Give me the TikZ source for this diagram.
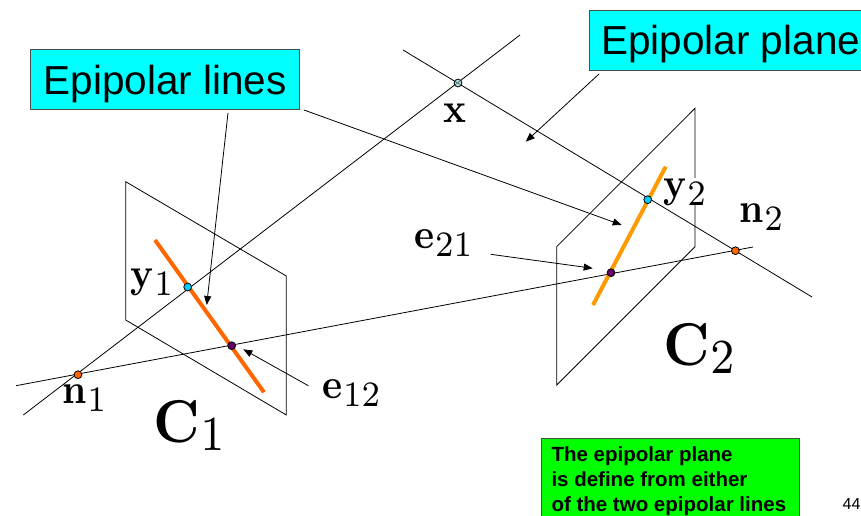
\documentclass[tikz,border=0pt]{standalone}
\usepackage[no-math]{fontspec}
\newfontfamily\arial{Liberation Sans}
\usetikzlibrary{arrows.meta}
\definecolor{boxcyan}{HTML}{00FFFF}
\definecolor{boxgreen}{HTML}{00FF00}
\definecolor{lineA}{HTML}{FF6600}
\definecolor{lineB}{HTML}{FF9900}
\definecolor{dotcyan}{HTML}{00CCFF}
\definecolor{dotpurple}{HTML}{660066}
\definecolor{dotx}{HTML}{88CCCC}
\font\baseA=cmbx10 at 38pt
\font\subA=cmr7 at 32.5pt
\font\baseB=cmbx10 at 56pt
\font\subB=cmr7 at 43pt
\newcommand{\tallA}[1]{\scalebox{1}[1.1]{#1}}
\newcommand{\tallB}[1]{\scalebox{1}[1.08]{#1}}
\newcommand{\smalllbl}[2]{\tallA{\baseA #1}\kern1pt\raisebox{-8pt}{\tallA{\subA #2}}}
\newcommand{\biglbl}[2]{\tallB{\baseB #1}\kern1pt\raisebox{-8pt}{\scalebox{1}[1.14]{\subB #2}}}
\tikzset{
  thin line/.style={draw=black,line width=0.8pt},
  arr/.style={thin line,-{Triangle[length=9pt,width=7pt]}},
  cyanbox/.style={draw=black!70,line width=1pt,fill=boxcyan,inner sep=0pt,text=black},
  greenbox/.style={draw=black!70,line width=1pt,fill=boxgreen,inner sep=0pt},
  dot/.style={circle,draw=black,line width=0.8pt,inner sep=0pt,minimum size=7.8pt},
  mathl/.style={inner sep=0pt,anchor=base west},
}
\begin{document}
\begin{tikzpicture}[x=1pt,y=-1pt]
\useasboundingbox (0,0) rectangle (861,516);
% planes
\draw[thin line] (125.7,181.7) -- (286.3,276) -- (286.3,415) -- (125.7,320) -- cycle;
\draw[thin line] (695,108.3) -- (695,246.7) -- (556.7,385) -- (556.7,246.7) -- cycle;
% rays
\coordinate (ray1s) at (23.3,415);
\coordinate (ray1e) at (520,35);
\coordinate (ray2s) at (403,50);
\coordinate (ray2e) at (812,297);
\coordinate (bases) at (16,385.7);
\coordinate (basee) at (753,247);
\draw[thin line] (ray1s) -- (ray1e);
\draw[thin line] (ray2s) -- (ray2e);
\draw[thin line] (bases) -- (basee);
% label with white backing
\node[mathl,fill=white] (ly2) at (663,197) {\smalllbl{y}{2}};
% epipolar lines
\coordinate (o1a) at (155,240);
\coordinate (o1b) at (264,392.3);
\coordinate (o2a) at (665.7,166.7);
\coordinate (o2b) at (593,305);
\draw[line width=4pt,color=lineA] (o1a) -- (o1b);
\draw[line width=4pt,color=lineB] (o2a) -- (o2b);
% dots
\node[dot,fill=dotcyan] (y1) at (187.7,287) {};
\node[dot,fill=dotcyan] (y2) at (647.7,199.7) {};
\node[dot,fill=dotpurple] (e12) at (231.7,345.7) {};
\node[dot,fill=dotpurple] (e21) at (611,272.7) {};
\node[dot,fill=lineA] (n1) at (78,374.7) {};
\node[dot,fill=lineA] (n2) at (735.4,250.7) {};
\node[dot,fill=dotx,fill opacity=0.6] (x) at (458,83) {};
% boxes
\node[cyanbox,minimum width=268.6pt,minimum height=60pt] (bl) at (165,79.3) {};
\node[inner sep=0pt,anchor=base west] (blt) at (43.3,95) {\arial\fontsize{40.5}{44}\selectfont Epipolar lines};
\path[fill=boxcyan,draw=black!70,line width=1pt] (589.3,10.7) rectangle (870,71);
\node[inner sep=0pt,anchor=base west] (bp) at (601,55) {\arial\fontsize{40.5}{44}\selectfont Epipolar plane};
\node[greenbox,minimum width=258pt,minimum height=80pt,anchor=north west] (gb) at (541,438.3) {};
\node[inner sep=0pt,anchor=base west] (gt1) at (551.3,461.7) {\arial\bfseries\fontsize{20.5}{25}\selectfont The epipolar plane};
\node[inner sep=0pt,anchor=base west] (gt2) at (551.3,486.7) {\arial\bfseries\fontsize{20.5}{25}\selectfont is define from either};
\node[inner sep=0pt,anchor=base west] (gt3) at (551.3,511.7) {\arial\bfseries\fontsize{20.5}{25}\selectfont of the two epipolar lines};
\node[inner sep=0pt,anchor=base west] (pg) at (842.5,509) {\arial\fontsize{16}{18}\selectfont 44};
% math labels
\node[mathl] (lx) at (443,122) {\tallA{\baseA x}};
\node[mathl] (ly1) at (130,287) {\smalllbl{y}{1}};
\node[mathl] (ln1) at (62,403) {\smalllbl{n}{1}};
\node[mathl] (le12) at (322,398) {\smalllbl{e}{12}};
\node[mathl] (le21) at (414,248) {\smalllbl{e}{21}};
\node[mathl] (ln2) at (739,222) {\smalllbl{n}{2}};
\node[mathl] (c1) at (153,442) {\biglbl{C}{1}};
\node[mathl] (c2) at (663,365) {\biglbl{C}{2}};
% arrows
\coordinate (a1) at (228,113);
\coordinate (a1e) at (206.7,305);
\coordinate (a2) at (304,110);
\coordinate (a2e) at (621.7,225);
\coordinate (a3) at (599,74);
\coordinate (a3e) at (525.7,141.7);
\coordinate (a4) at (490.7,254.3);
\coordinate (a4e) at (592.7,268.3);
\coordinate (a5) at (308.3,385.7);
\coordinate (a5e) at (243.3,349.3);
\draw[arr] (a1) -- (a1e);
\draw[arr] (a2) -- (a2e);
\draw[arr] (a3) -- (a3e);
\draw[arr] (a4) -- (a4e);
\draw[arr] (a5) -- (a5e);
\end{tikzpicture}
\end{document}
